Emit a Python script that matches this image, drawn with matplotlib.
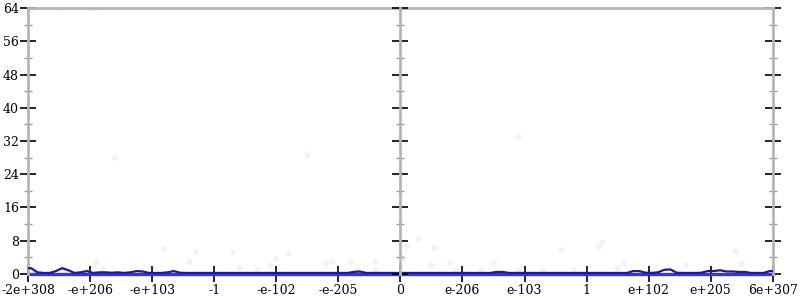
import matplotlib.pyplot as plt
from matplotlib.ticker import MultipleLocator

# x axis is a "double ordering" scale: position 0..12, labels below
tick_pos = list(range(13))
tick_labels = ['-2e+308', '-e+206', '-e+103', '-1', '-e-102', '-e-205', '0',
               'e-206', 'e-103', '1', 'e+102', 'e+205', '6e+307']

# histogram counts, 120 bins of width 0.1 across the axis
counts = [
    1.4, 0.4, 0, 0, 0.7, 1.4, 0.9, 0, 0.4, 0.7, 0.2, 0.4, 0.4, 0.3, 0.4, 0, 0.4, 0.7, 0.6, 0,
    0, 0, 0.4, 0.7, 0.3, 0, 0, 0, 0, 0, 0, 0, 0, 0, 0, 0, 0, 0, 0, 0,
    0, 0, 0, 0, 0, 0, 0, 0, 0, 0, 0, 0, 0.5, 0.6, 0, 0, 0, 0, 0, 0,
    0, 0, 0, 0, 0, 0, 0, 0, 0, 0, 0, 0, 0, 0, 0, 0.5, 0.5, 0, 0, 0,
    0, 0, 0, 0, 0, 0, 0, 0, 0, 0, 0, 0, 0, 0, 0, 0, 0, 0.7, 0.7, 0.3,
    0, 0.4, 1.0, 1.1, 0.3, 0, 0, 0, 0.3, 0.7, 0.7, 0.9, 0.6, 0.6, 0.5, 0.5, 0, 0, 0, 0.7,
]
bin_centers = [i / 10 + 0.05 for i in range(len(counts))]
floor_level = 0.25  # dark line rests just above the baseline

# faint sample points
dots_x = [2.2, 2.6, 2.7, 3.3, 3.4, 3.9, 4.0, 4.2, 4.8, 4.9, 5.2, 5.6, 1.1,
          6.1, 6.05, 6.3, 6.5, 6.55, 6.8, 7.5, 8.6, 9.2, 9.25, 9.6, 9.5, 10.6, 11.4, 11.5,
          0.1, 0.6, 1.2, 6.9, 7.3, 7.9, 8.3, 8.8, 3.7, 5.3, 5.6,
          0.05, 0.5, 1.0, 1.1, 1.4, 4.5, 7.9]
dots_y = [6.0, 2.9, 5.3, 5.1, 1.4, 2.1, 3.6, 5.0, 2.6, 2.9, 2.9, 2.9, 2.9,
          6.7, 3.6, 8.4, 2.1, 6.3, 2.6, 2.6, 5.8, 6.5, 7.5, 2.6, 1.4, 2.1, 5.5, 2.4,
          1.0, 0.9, 1.2, 0.8, 1.0, 0.9, 0.8, 1.0, 1.1, 0.9, 0.8,
          63.8, 63.8, 63.8, 63.8, 28.0, 28.5, 33.0]

plt.rcParams['font.family'] = 'DejaVu Serif'
fig = plt.figure(figsize=(8, 3), dpi=100)
ax = fig.add_axes([0.035, 0.0867, 0.931, 0.8866])

ax.scatter(dots_x, dots_y, s=18, color='#f1f1fb', edgecolor='none', zorder=1)
ax.axhline(0, color='#3535e0', lw=2.4, zorder=2, clip_on=False)
dark = [max(c, floor_level) for c in counts]
ax.plot([0] + bin_centers + [12], [dark[0]] + dark + [dark[-1]],
        color='#1c1c8a', lw=1.6, zorder=3)

ax.set_xlim(0, 12)
ax.set_ylim(0, 64)
ax.set_xticks(tick_pos)
ax.set_xticklabels(tick_labels)
ax.yaxis.set_major_locator(MultipleLocator(8))
ax.yaxis.set_minor_locator(MultipleLocator(4))

for s in ['left', 'right', 'top', 'bottom']:
    ax.spines[s].set_color('#b5b5b5')
    ax.spines[s].set_linewidth(2)
ax.spines['bottom'].set_visible(False)

ax.tick_params(axis='x', direction='inout', length=11, width=1.2, color='black',
               labelsize=9, pad=2)
ax.tick_params(axis='y', which='major', direction='inout', length=11, width=1.2,
               color='black', labelsize=9, pad=1, right=True)
ax.tick_params(axis='y', which='minor', direction='inout', length=6, width=1,
               color='#999999', right=True)

# middle axis at 0: a second axes whose left spine sits in the centre
mid = fig.add_axes([0.035 + 0.931 / 2, 0.0867, 0.931 / 2, 0.8866])
mid.patch.set_visible(False)
mid.set_ylim(0, 64)
mid.set_xticks([])
for s in ['right', 'top', 'bottom']:
    mid.spines[s].set_visible(False)
mid.spines['left'].set_color('#b5b5b5')
mid.spines['left'].set_linewidth(2)
mid.yaxis.set_major_locator(MultipleLocator(8))
mid.yaxis.set_minor_locator(MultipleLocator(4))
mid.tick_params(axis='y', which='major', direction='inout', length=11, width=1.2,
                color='black', labelleft=False)
mid.tick_params(axis='y', which='minor', direction='inout', length=6, width=1,
                color='#999999')

plt.savefig('out.png', dpi=100)
